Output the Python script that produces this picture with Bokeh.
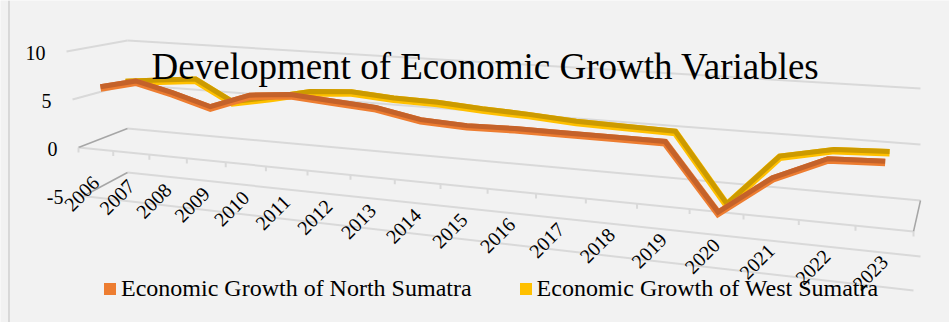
import numpy as np
from bokeh.plotting import figure
from bokeh.models import Range1d, Legend, LegendItem, Label, Span
from bokeh.core.properties import value
from bokeh.embed import file_html
from bokeh.resources import INLINE

# ---------------- data ----------------
years = ["2006", "2007", "2008", "2009", "2010", "2011", "2012", "2013", "2014",
         "2015", "2016", "2017", "2018", "2019", "2020", "2021", "2022", "2023"]
north_sumatra = [6.2, 7.1, 6.2, 5.1, 6.6, 7.0, 6.7, 6.4, 5.6,
                 5.4, 5.5, 5.5, 5.5, 5.5, -0.4, 3.1, 5.2, 5.4]
west_sumatra = [6.0, 6.4, 6.8, 4.7, 5.5, 6.4, 6.7, 6.4, 6.3,
                6.0, 5.8, 5.5, 5.4, 5.3, -1.0, 3.8, 4.8, 5.0]
value_ticks = [10, 5, 0, -5]
title_text = "Development of Economic Growth Variables"
legend_labels = ["Economic Growth of North Sumatra", "Economic Growth of West Sumatra"]

# ---------------- simple perspective view of a 3-D line chart ----------------
N_CAT = len(years)


def front_x(b):
    b = np.asarray(b, dtype=float)
    return 78 + 34.06 * b + 0.685 * b ** 2


SPAN = float(front_x(N_CAT) - front_x(0))


def project(b, v, d):
    """category boundary index b, value v, depth d (0 front .. 1 back) -> view plane"""
    b = np.asarray(b, dtype=float)
    v = np.asarray(v, dtype=float)
    xf = front_x(b)
    u = (xf - front_x(0)) / SPAN
    xb = 127 + 793 * u
    yf = 147 + 84 * u - (9.6 + 2.2 * u) * v
    yb = 128 + 72 * u - (8.8 + 2.4 * u) * v
    return xf + d * (xb - xf), yf + d * (yb - yf)


def side_front(v):
    x, y = project(0, v, 0.0)
    return float(x) - 1.2 * v, float(y)


FONT = "Liberation Serif"
GRID = "#D9D9D9"
EDGE = "#A6A6A6"
BG = "#F2F2F2"

p = figure(width=949, height=322, x_range=Range1d(0, 949), y_range=Range1d(322, 0),
           output_backend="svg", toolbar_location=None, min_border=0,
           x_axis_location=None, y_axis_location=None)
p.grid.visible = False
p.background_fill_color = BG
p.border_fill_color = BG
p.outline_line_color = None
p.add_layout(Span(location=8.5, dimension="height", line_color="#BFBFBF", line_width=1))

# ---- walls and floor ----
ends = [0, N_CAT]
light_xs, light_ys = [], []
for v in value_ticks:  # back wall gridlines
    x, y = project(ends, [v, v], 1.0)
    light_xs.append(list(x)); light_ys.append(list(y))
for v in [10, 5]:  # side wall gridlines
    fx, fy = side_front(v)
    bx, by = project(0, v, 1.0)
    light_xs.append([fx, float(bx)]); light_ys.append([fy, float(by)])
for v in [0, -5]:  # front edges
    x, y = project(ends, [v, v], 0.0)
    light_xs.append(list(x)); light_ys.append(list(y))
p.multi_line(light_xs, light_ys, line_color=GRID, line_width=2)

dark_xs, dark_ys = [], []
for v in [0, -5]:
    fx, fy = side_front(v)
    bx, by = project(0, v, 1.0)
    dark_xs.append([fx, float(bx)]); dark_ys.append([fy, float(by)])
x0, y0 = project(N_CAT, 0, 0.0)
x1, y1 = project(N_CAT, 0, 1.0)
dark_xs.append([float(x0), float(x1)]); dark_ys.append([float(y0), float(y1)])
p.multi_line(dark_xs, dark_ys, line_color=EDGE, line_width=1.5)

# tick marks on the category axis
tb = np.arange(N_CAT + 1)
tx, ty = project(tb, np.zeros(len(tb)), 0.0)
p.segment(x0=tx, y0=ty, x1=tx, y1=ty + 5, line_color=GRID, line_width=2)

# ---- series ribbons ----
centers = np.arange(N_CAT) + 0.5
series = [
    (west_sumatra, 0.62, "#FFC000", "#CC9A00"),
    (north_sumatra, 0.10, "#ED7D31", "#C4622A"),
]
for vals, depth, light, dark in series:
    sx, sy = project(centers, vals, depth)
    p.line(sx, sy, line_color=light, line_width=7.5, line_join="miter")
    p.line(sx, sy - 1.25, line_color=dark, line_width=5, line_join="miter")

# ---- axis labels ----
lx, ly = project(centers, np.zeros(N_CAT), 0.0)
p.text(x=lx, y=ly + 30, text=years, angle=np.pi / 4, text_align="right",
       text_baseline="middle", text_font=value(FONT), text_font_size="20px",
       text_color="black")

vx, vy = [], []
for v in value_ticks:
    fx, fy = side_front(v)
    vx.append(fx - 21); vy.append(fy + 1)
p.text(x=vx, y=vy, text=[str(v) for v in value_ticks], text_align="right",
       text_baseline="middle", text_font=value(FONT), text_font_size="20px",
       text_color="black")

# ---- title ----
p.add_layout(Label(x=485, y=66, text=title_text, text_align="center",
                   text_baseline="alphabetic", text_font=FONT,
                   text_font_size="37px", text_color="black"))

# ---- legend (swatches only, no drawn marks) ----
nan = [float("nan")]
r_n = p.quad(left=nan, right=nan, top=nan, bottom=nan, fill_color="#ED7D31", line_color=None)
r_w = p.quad(left=nan, right=nan, top=nan, bottom=nan, fill_color="#FFC000", line_color=None)
legend = Legend(items=[LegendItem(label=legend_labels[0], renderers=[r_n]),
                       LegendItem(label=legend_labels[1], renderers=[r_w])],
                orientation="horizontal", location=(102, 20),
                glyph_width=15, glyph_height=15, label_standoff=4, spacing=46,
                padding=0, margin=0, border_line_color=None, background_fill_alpha=0,
                label_text_font=FONT, label_text_font_size="24px", label_text_color="black")
p.add_layout(legend)

open("out.html", "w").write(file_html(p, INLINE))
